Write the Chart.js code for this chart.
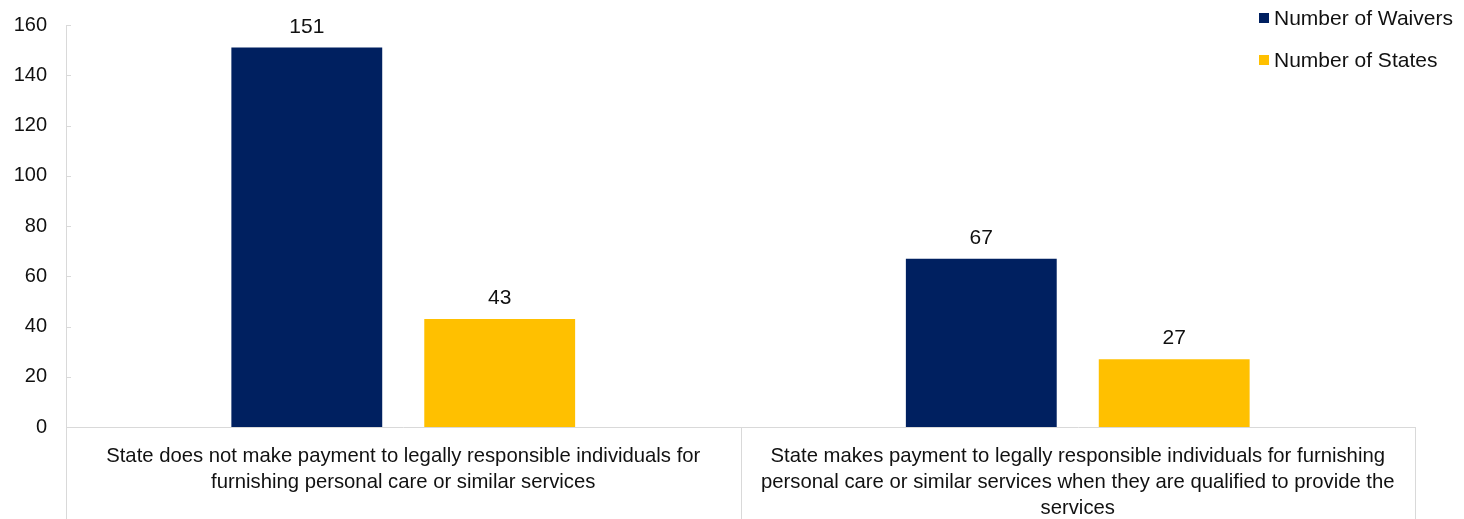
<!DOCTYPE html>
<html><head><meta charset="utf-8">
<script src="https://cdn.jsdelivr.net/npm/chart.js@4.4.1/dist/chart.umd.min.js"></script>
<style>
html,body{margin:0;padding:0;background:#fff;}
#wrap{position:relative;width:1464px;height:519px;}
#legend{position:absolute;left:1259px;top:-3px;font-family:"Liberation Sans",Arial,sans-serif;font-size:21px;color:#111;}
#legend div{height:42px;display:flex;align-items:center;white-space:nowrap;}
#legend span.sw{display:inline-block;width:10px;height:10px;margin-right:5px;}
</style></head>
<body>
<div id="wrap"><canvas id="c" width="1464" height="519"></canvas>
<div id="legend"></div></div>
<script>
const categories = [
  ["State does not make payment to legally responsible individuals for","furnishing personal care or similar services"],
  ["State makes payment to legally responsible individuals for furnishing","personal care or similar services when they are qualified to provide the","services"]
];
const seriesNames = ["Number of Waivers","Number of States"];
const waivers = [151, 67];
const states = [43, 27];
const yTicks = {min:0, max:160, step:20};
const colors = ["#002060","#FFC000"];

const FONT = "'Liberation Sans', Arial, sans-serif";

const lg = document.getElementById('legend');
seriesNames.forEach((n,i)=>{
  const d=document.createElement('div');
  d.innerHTML='<span class="sw" style="background:'+colors[i]+'"></span>'+n;
  lg.appendChild(d);
});

const extras = {
  id:'extras',
  afterDraw(chart){
    const ctx=chart.ctx, ca=chart.chartArea;
    const x=chart.scales.x, y=chart.scales.y;
    ctx.save();
    ctx.strokeStyle='#d9d9d9'; ctx.lineWidth=1;
    y.ticks.forEach(t=>{
      const py=Math.round(y.getPixelForValue(t.value))+0.5;
      ctx.beginPath(); ctx.moveTo(ca.left,py); ctx.lineTo(ca.left+5,py); ctx.stroke();
    });
    const xs=[x.left, (x.getPixelForTick(0)+x.getPixelForTick(1))/2, x.right];
    xs.forEach(px=>{
      px=Math.round(px)+0.5;
      ctx.beginPath(); ctx.moveTo(px,ca.bottom); ctx.lineTo(px,chart.height); ctx.stroke();
    });
    ctx.fillStyle='#111'; ctx.font='21px '+FONT; ctx.textAlign='center'; ctx.textBaseline='alphabetic';
    chart.data.datasets.forEach((ds,di)=>{
      chart.getDatasetMeta(di).data.forEach((bar,i)=>{
        ctx.fillText(String(ds.data[i]), bar.x, bar.y-15);
      });
    });
    ctx.restore();
  }
};

new Chart(document.getElementById('c'),{
  type:'bar',
  data:{
    labels:categories,
    datasets:[
      {label:seriesNames[0],data:waivers,backgroundColor:colors[0],categoryPercentage:0.572,barPercentage:0.782},
      {label:seriesNames[1],data:states,backgroundColor:colors[1],categoryPercentage:0.572,barPercentage:0.782}
    ]
  },
  options:{
    responsive:false,animation:false,
    layout:{padding:{top:25,right:49,bottom:0,left:0}},
    plugins:{legend:{display:false},tooltip:{enabled:false}},
    scales:{
      x:{
        grid:{display:false,drawTicks:false},
        border:{color:'#d9d9d9'},
        ticks:{color:'#111',font:{family:FONT,size:20.3,lineHeight:1.28},padding:16,maxRotation:0,autoSkip:false},
        afterFit(s){s.height=92;}
      },
      y:{
        min:yTicks.min,max:yTicks.max,
        grid:{display:false,drawTicks:false},
        border:{color:'#d9d9d9'},
        ticks:{stepSize:yTicks.step,color:'#111',font:{family:FONT,size:20},padding:19},
        afterFit(s){s.width=66;s.paddingTop=0;s.paddingBottom=0;}
      }
    }
  },
  plugins:[extras]
});
</script>
</body></html>
